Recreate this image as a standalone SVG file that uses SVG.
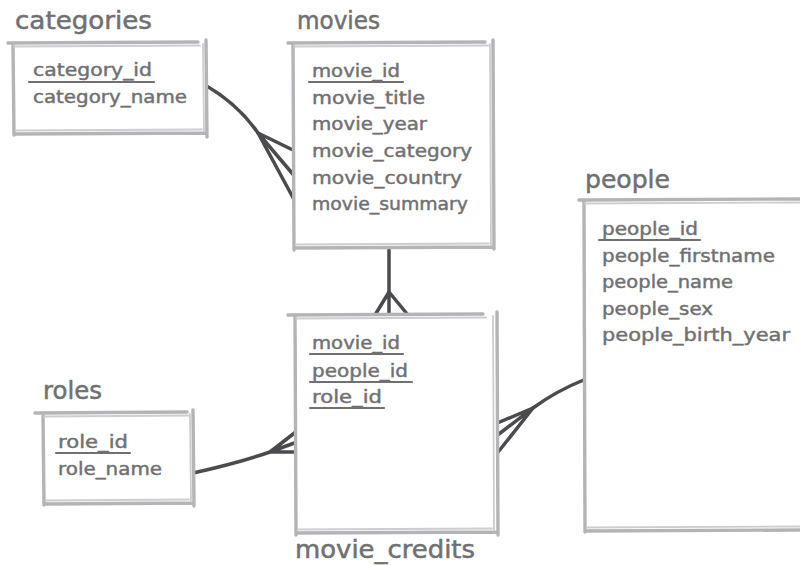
<svg xmlns="http://www.w3.org/2000/svg" width="800" height="565" viewBox="0 0 800 565">
<style>
.bg{fill:#ffffff}
.b{fill:none;stroke:#b4b4b7;stroke-width:3.4;stroke-linecap:round}
.b2{fill:none;stroke:#cdcdd0;stroke-width:1.8;stroke-linecap:round}
.t{font-family:"DejaVu Sans",sans-serif;font-size:24px;fill:#707072;stroke:#707072;stroke-width:0.5}
.f{font-family:"DejaVu Sans",sans-serif;font-size:18px;fill:#707072;stroke:#707072;stroke-width:0.45}
.u{stroke:#707072;stroke-width:2.2;stroke-linecap:round}
.c{fill:none;stroke:#4b4b4d;stroke-width:3.5;stroke-linecap:round;stroke-linejoin:round}
</style>
<rect x="0" y="0" width="800" height="565" fill="#ffffff"/>
<g id="connectors">
<path class="c" d="M205,85 Q238,104 258,133"/>
<path class="c" d="M258,133 L297,152 M258,133 L297,179 M258,133 L297,205"/>
<path class="c" d="M389,248 L389,292"/>
<path class="c" d="M389,292 L375,315 M389,292 L389,315 M389,292 L408,315"/>
<path class="c" d="M193,473 Q238,463 270,452"/>
<path class="c" d="M270,452 L297,431 M270,452 L297,442 M270,452 L297,452"/>
<path class="c" d="M586,379 Q556,391 533,408"/>
<path class="c" d="M533,408 L495,424 M533,408 L495,437 M533,408 L495,456"/>
</g>
<g id="categories">
<rect class="bg" x="14" y="44" width="191" height="89"/>
<path class="b" d="M8,43 L198,42 M13,44 L14,135 M206,40 L207,137 M14,134 L207,133"/>
<path class="b2" d="M14,46.5 L200,45.5 M203,44 L204,131 M16,130.5 L202,129.5"/>
<text class="t" x="15" y="29" textLength="137" lengthAdjust="spacingAndGlyphs">categories</text>
<text class="f" x="33" y="76" textLength="119" lengthAdjust="spacingAndGlyphs">category_id</text>
<line class="u" x1="29" y1="82" x2="154" y2="82"/>
<text class="f" x="33" y="103" textLength="154" lengthAdjust="spacingAndGlyphs">category_name</text>
</g>
<g id="movies">
<rect class="bg" x="294" y="44" width="198" height="203"/>
<path class="b" d="M288,43 L485,42 M293,44 L294,250 M493,40 L494,249 M294,248 L494,247"/>
<path class="b2" d="M294,46.5 L488,45.5 M490,44 L491,245 M296,244.5 L489,243.5"/>
<text class="t" x="297" y="29" textLength="83" lengthAdjust="spacingAndGlyphs">movies</text>
<text class="f" x="312" y="77" textLength="88" lengthAdjust="spacingAndGlyphs">movie_id</text>
<line class="u" x1="309" y1="82" x2="403" y2="82"/>
<text class="f" x="312" y="104" textLength="113" lengthAdjust="spacingAndGlyphs">movie_title</text>
<text class="f" x="312" y="130" textLength="115" lengthAdjust="spacingAndGlyphs">movie_year</text>
<text class="f" x="312" y="157" textLength="160" lengthAdjust="spacingAndGlyphs">movie_category</text>
<text class="f" x="312" y="184" textLength="150" lengthAdjust="spacingAndGlyphs">movie_country</text>
<text class="f" x="312" y="210" textLength="156" lengthAdjust="spacingAndGlyphs">movie_summary</text>
</g>
<g id="people">
<rect class="bg" x="585" y="201" width="220" height="329"/>
<path class="b" d="M579,200 L800,199 M584,201 L585,532 M585,531 L800,530"/>
<path class="b2" d="M585,203.5 L800,202.5 M587,527.5 L800,526.5"/>
<text class="t" x="585" y="188" textLength="85" lengthAdjust="spacingAndGlyphs">people</text>
<text class="f" x="602" y="235" textLength="96" lengthAdjust="spacingAndGlyphs">people_id</text>
<line class="u" x1="599" y1="240" x2="700" y2="240"/>
<text class="f" x="602" y="262" textLength="173" lengthAdjust="spacingAndGlyphs">people_firstname</text>
<text class="f" x="602" y="288" textLength="131" lengthAdjust="spacingAndGlyphs">people_name</text>
<text class="f" x="602" y="315" textLength="111" lengthAdjust="spacingAndGlyphs">people_sex</text>
<text class="f" x="602" y="341" textLength="188" lengthAdjust="spacingAndGlyphs">people_birth_year</text>
</g>
<g id="movie_credits">
<rect class="bg" x="296" y="316" width="200" height="216"/>
<path class="b" d="M288,315 L483,314 M295,316 L296,535 M497,312 L498,535 M296,533 L498,532"/>
<path class="b2" d="M296,318.5 L486,317.5 M493,316 L494,530 M298,529.5 L492,528.5"/>
<text class="t" x="295" y="558" textLength="180" lengthAdjust="spacingAndGlyphs">movie_credits</text>
<text class="f" x="312" y="349" textLength="88" lengthAdjust="spacingAndGlyphs">movie_id</text>
<line class="u" x1="310" y1="354" x2="403" y2="354"/>
<text class="f" x="312" y="377" textLength="96" lengthAdjust="spacingAndGlyphs">people_id</text>
<line class="u" x1="310" y1="382" x2="412" y2="382"/>
<text class="f" x="312" y="403" textLength="70" lengthAdjust="spacingAndGlyphs">role_id</text>
<line class="u" x1="310" y1="408" x2="384" y2="408"/>
</g>
<g id="roles">
<rect class="bg" x="44" y="414" width="148" height="89"/>
<path class="b" d="M35,413 L187,412 M43,414 L44,505 M193,410 L194,506 M44,504 L194,503"/>
<path class="b2" d="M44,416.5 L189,415.5 M190,414 L191,501 M46,500.5 L189,499.5"/>
<text class="t" x="43" y="399" textLength="59" lengthAdjust="spacingAndGlyphs">roles</text>
<text class="f" x="58" y="448" textLength="70" lengthAdjust="spacingAndGlyphs">role_id</text>
<line class="u" x1="56" y1="453" x2="130" y2="453"/>
<text class="f" x="58" y="475" textLength="104" lengthAdjust="spacingAndGlyphs">role_name</text>
</g>
</svg>
